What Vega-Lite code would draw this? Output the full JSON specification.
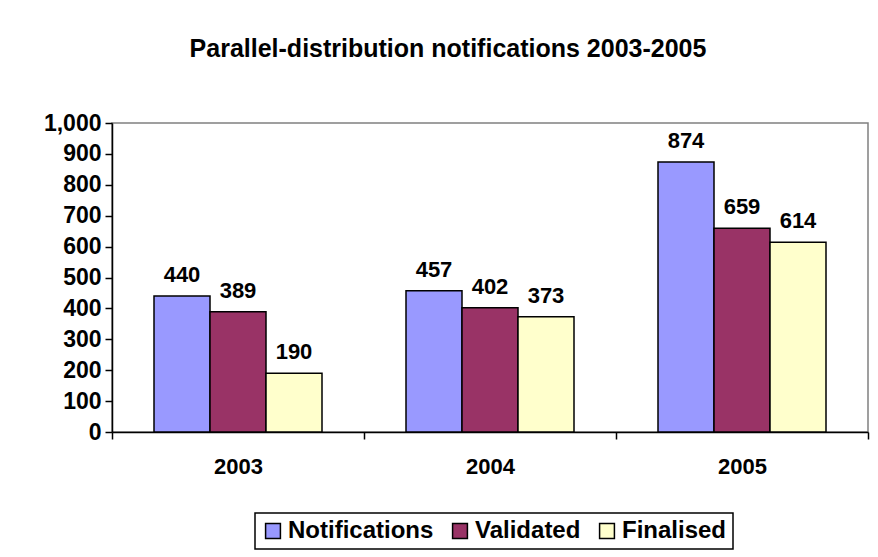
{
  "$schema": "https://vega.github.io/schema/vega-lite/v6.json",
  "autosize": {"type": "none"},
  "padding": {"left": 112, "top": 123, "right": 10, "bottom": 125},
  "width": 756,
  "height": 309,
  "background": "white",
  "title": {
    "text": "Parallel-distribution notifications 2003-2005",
    "fontSize": 25,
    "fontWeight": "bold",
    "font": "Liberation Sans",
    "color": "black",
    "anchor": "middle",
    "dx": -42,
    "offset": 50
  },
  "data": {
    "values": [
      {"year": "2003", "series": "Notifications", "value": 440},
      {"year": "2003", "series": "Validated", "value": 389},
      {"year": "2003", "series": "Finalised", "value": 190},
      {"year": "2004", "series": "Notifications", "value": 457},
      {"year": "2004", "series": "Validated", "value": 402},
      {"year": "2004", "series": "Finalised", "value": 373},
      {"year": "2005", "series": "Notifications", "value": 874},
      {"year": "2005", "series": "Validated", "value": 659},
      {"year": "2005", "series": "Finalised", "value": 614}
    ]
  },
  "encoding": {
    "x": {
      "field": "year", "type": "nominal",
      "scale": {"paddingInner": 0, "paddingOuter": 0},
      "axis": {
        "title": null, "labelAngle": 0, "tickBand": "extent",
        "domainColor": "black", "domainWidth": 1.5,
        "tickColor": "black", "tickWidth": 1.5, "tickSize": 7,
        "labelFontSize": 22, "labelFontWeight": "bold", "labelFont": "Liberation Sans",
        "labelColor": "black", "labelPadding": 17
      }
    },
    "xOffset": {
      "field": "series", "type": "nominal",
      "sort": ["Notifications", "Validated", "Finalised"],
      "scale": {"paddingInner": 0, "paddingOuter": 0.75}
    },
    "y": {
      "field": "value", "type": "quantitative",
      "scale": {"domain": [0, 1000], "nice": false},
      "axis": {
        "title": null, "values": [0,100,200,300,400,500,600,700,800,900,1000],
        "format": ",.0f", "grid": false,
        "domainColor": "black", "domainWidth": 1.5,
        "tickColor": "black", "tickWidth": 1.5, "tickSize": 7,
        "labelFontSize": 23, "labelFontWeight": "bold", "labelFont": "Liberation Sans",
        "labelColor": "black", "labelPadding": 4
      }
    }
  },
  "layer": [
    {
      "mark": {"type": "bar", "stroke": "black", "strokeWidth": 1.5},
      "encoding": {
        "color": {
          "field": "series", "type": "nominal",
          "sort": ["Notifications", "Validated", "Finalised"],
          "scale": {"domain": ["Notifications", "Validated", "Finalised"], "range": ["#9999FF", "#993366", "#FFFFCC"]},
          "legend": {
            "title": null, "orient": "none", "direction": "horizontal",
            "legendX": 143, "legendY": 390,
            "symbolType": "square", "symbolSize": 220,
            "symbolStrokeColor": "black", "symbolStrokeWidth": 1.5, "symbolOpacity": 1,
            "labelFontSize": 24, "labelFontWeight": "bold", "labelFont": "Liberation Sans",
            "labelColor": "black", "columnPadding": 14, "labelOffset": 3,
            "padding": 6, "strokeColor": "black"
          }
        }
      }
    },
    {
      "mark": {"type": "text", "baseline": "bottom", "dy": -9, "fontSize": 22, "fontWeight": "bold", "font": "Liberation Sans", "color": "black"},
      "encoding": {"text": {"field": "value", "type": "quantitative", "format": "d"}}
    }
  ],
  "config": {
    "view": {"stroke": "#808080", "strokeWidth": 1.5},
    "legend": {"strokeWidth": 1.5}
  }
}
